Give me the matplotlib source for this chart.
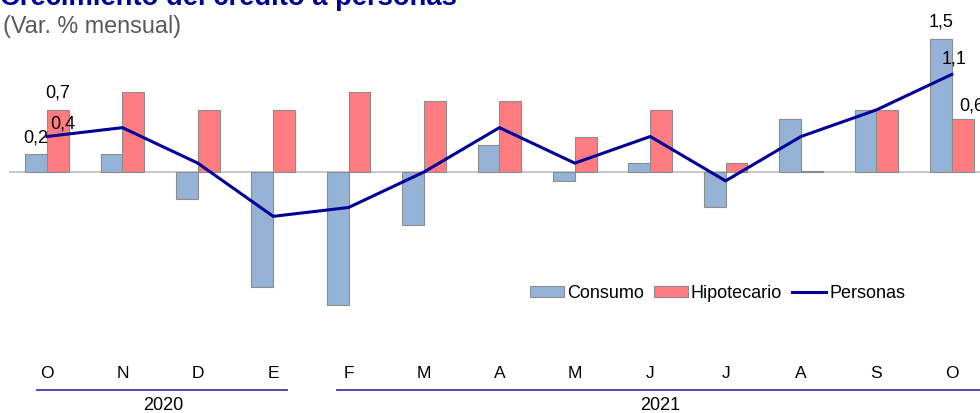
import numpy as np
import matplotlib
matplotlib.use("Agg")
import matplotlib.pyplot as plt
import matplotlib.transforms as mtransforms

plt.rcParams['font.family'] = ['Liberation Sans', 'DejaVu Sans']

# datos (var. % mensual)
meses = ['O', 'N', 'D', 'E', 'F', 'M', 'A', 'M', 'J', 'J', 'A', 'S', 'O']
consumo = [0.2, 0.2, -0.3, -1.3, -1.5, -0.6, 0.3, -0.1, 0.1, -0.4, 0.6, 0.7, 1.5]
hipotecario = [0.7, 0.9, 0.7, 0.7, 0.9, 0.8, 0.8, 0.4, 0.7, 0.1, 0.01, 0.7, 0.6]
personas = [0.4, 0.5, 0.1, -0.5, -0.4, 0.0, 0.5, 0.1, 0.4, -0.1, 0.4, 0.7, 1.1]
anios = ['2020', '2021']

c_cons = '#95B3D7'
c_hip = '#FF7C80'
c_pers = '#000099'

fig = plt.figure(figsize=(9.8, 4.13), dpi=100)
# eje un poco mas ancho que la figura (el ultimo rotulo queda cortado)
ax = fig.add_axes([9.3 / 980, 1 - 349.4 / 413, 980.2 / 980, 328.2 / 413])

x = np.arange(len(meses))
w = 0.29
b1 = ax.bar(x - w / 2, consumo, w, color=c_cons, edgecolor='#8C8C8C', linewidth=0.8, label='Consumo', zorder=2)
b2 = ax.bar(x + w / 2, hipotecario, w, color=c_hip, edgecolor='#8C8C8C', linewidth=0.8, label='Hipotecario', zorder=2)
ax.axhline(0, color='#BFBFBF', linewidth=1.2, zorder=1)
l1, = ax.plot(x, personas, color=c_pers, linewidth=2.2, label='Personas', zorder=3)

ax.set_xlim(-0.5, 12.5)
ax.set_ylim(-2.0, 1.7)
ax.axis('off')

def fmt(v):
    return ('%.1f' % v).replace('.', ',')

# rotulos primer y ultimo mes
kw = dict(ha='center', va='center', fontsize=13, textcoords='offset points')
ax.annotate(fmt(consumo[0]), (x[0] - w / 2, consumo[0]), xytext=(0, 12), **kw)
ax.annotate(fmt(hipotecario[0]), (x[0] + w / 2, hipotecario[0]), xytext=(0, 12), **kw)
ax.annotate(fmt(personas[0]), (x[0], personas[0]), xytext=(11, 9), **kw)
ax.annotate(fmt(consumo[-1]), (x[-1] - w / 2, consumo[-1]), xytext=(0, 12), **kw)
ax.annotate(fmt(personas[-1]), (x[-1], personas[-1]), xytext=(1.5, 11), **kw)
ax.annotate(fmt(hipotecario[-1]), (x[-1] + w / 2, hipotecario[-1]), xytext=(6.5, 9), **kw)

# eje de meses y anios
tr = mtransforms.blended_transform_factory(ax.transData, fig.transFigure)
for i, m in enumerate(meses):
    ax.text(i, 1 - 373 / 413, m, transform=tr, ha='center', va='center', fontsize=12.5)

y_lin = 1 - 390 / 413
ax.plot([-0.13, 3.18], [y_lin, y_lin], transform=tr, color='#3C3CB4', linewidth=1.3, clip_on=False)
ax.plot([3.85, 12.6], [y_lin, y_lin], transform=tr, color='#3C3CB4', linewidth=1.3, clip_on=False)
ax.text(1.54, 1 - 406 / 413, anios[0], transform=tr, ha='center', va='center', fontsize=13)
ax.text(8.13, 1 - 406 / 413, anios[1], transform=tr, ha='center', va='center', fontsize=13)

fig.legend([b1, b2, l1], ['Consumo', 'Hipotecario', 'Personas'], loc='center',
           bbox_to_anchor=(717.5 / 980, 1 - 293 / 413), ncol=3, frameon=False,
           fontsize=13, handlelength=1.88, handletextpad=0.17, columnspacing=0.55,
           handleheight=0.55, borderpad=0)

fig.text(0.0, 1 - 5 / 413, 'Crecimiento del crédito a personas', fontsize=19.7, fontweight='bold',
         color=c_pers, ha='left', va='baseline')
fig.text(3 / 980, 1 - 33 / 413, '(Var. % mensual)', fontsize=16.8, color='#595959',
         ha='left', va='baseline')

fig.savefig('out.png', dpi=100)
